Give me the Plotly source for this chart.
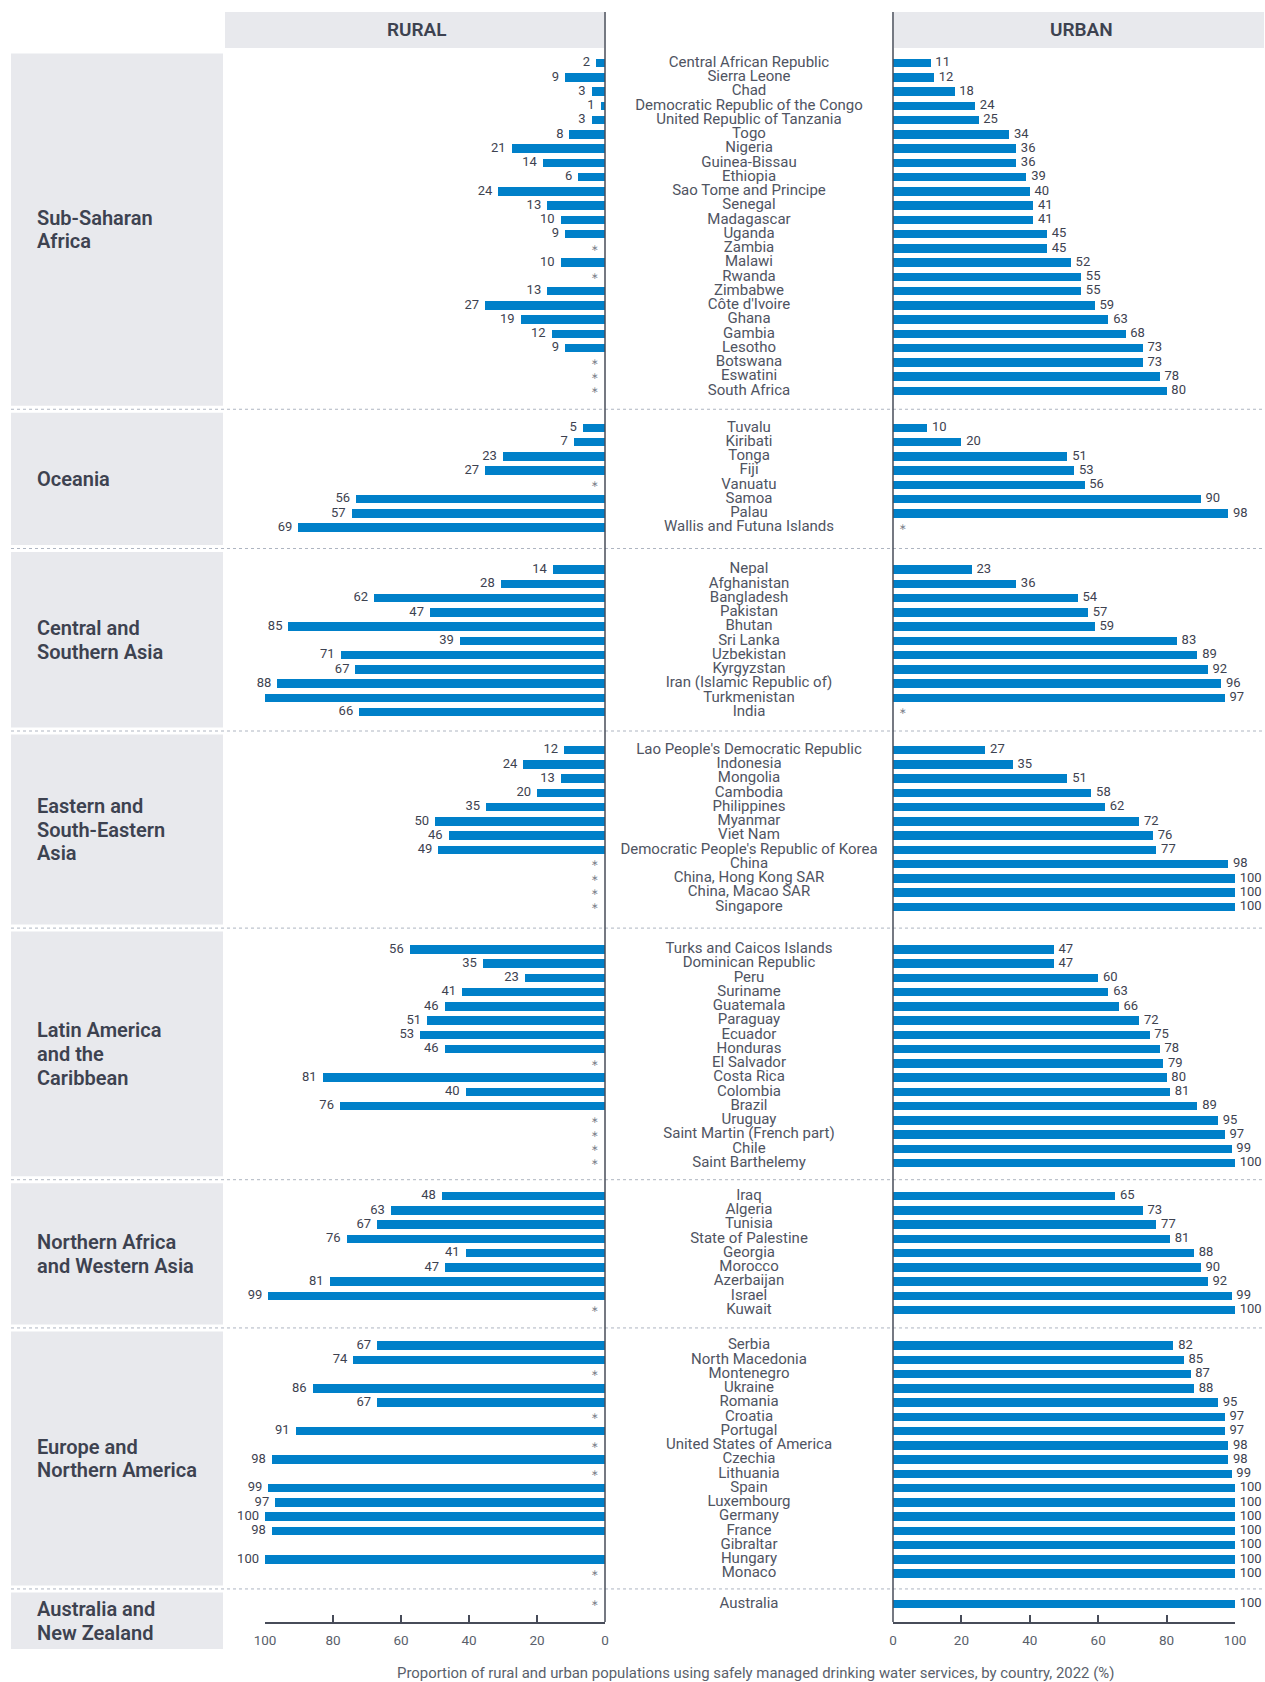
import plotly.graph_objects as go

# ---------------------------------------------------------------- data
# None  -> insufficient data (drawn as an asterisk)
# NA    -> not applicable (nothing drawn)
NA = "n/a"

SSA_COUNTRIES = ["Central African Republic", "Sierra Leone", "Chad",
                 "Democratic Republic of the Congo", "United Republic of Tanzania",
                 "Togo", "Nigeria", "Guinea-Bissau", "Ethiopia", "Sao Tome and Principe",
                 "Senegal", "Madagascar", "Uganda", "Zambia", "Malawi", "Rwanda",
                 "Zimbabwe", "Côte d'Ivoire", "Ghana", "Gambia", "Lesotho", "Botswana",
                 "Eswatini", "South Africa"]
SSA_RURAL = [2, 9, 3, 1, 3, 8, 21, 14, 6, 24, 13, 10, 9, None, 10, None, 13, 27, 19, 12, 9,
             None, None, None]
SSA_URBAN = [11, 12, 18, 24, 25, 34, 36, 36, 39, 40, 41, 41, 45, 45, 52, 55, 55, 59, 63, 68,
             73, 73, 78, 80]

OCE_COUNTRIES = ["Tuvalu", "Kiribati", "Tonga", "Fiji", "Vanuatu", "Samoa", "Palau",
                 "Wallis and Futuna Islands"]
OCE_RURAL = [5, 7, 23, 27, None, 56, 57, 69]
OCE_URBAN = [10, 20, 51, 53, 56, 90, 98, None]

CSA_COUNTRIES = ["Nepal", "Afghanistan", "Bangladesh", "Pakistan", "Bhutan", "Sri Lanka",
                 "Uzbekistan", "Kyrgyzstan", "Iran (Islamic Republic of)", "Turkmenistan",
                 "India"]
CSA_RURAL = [14, 28, 62, 47, 85, 39, 71, 67, 88, 92, 66]
CSA_URBAN = [23, 36, 54, 57, 59, 83, 89, 92, 96, 97, None]

ESEA_COUNTRIES = ["Lao People's Democratic Republic", "Indonesia", "Mongolia", "Cambodia",
                  "Philippines", "Myanmar", "Viet Nam",
                  "Democratic People's Republic of Korea", "China", "China, Hong Kong SAR",
                  "China, Macao SAR", "Singapore"]
ESEA_RURAL = [12, 24, 13, 20, 35, 50, 46, 49, None, None, None, None]
ESEA_URBAN = [27, 35, 51, 58, 62, 72, 76, 77, 98, 100, 100, 100]

LAC_COUNTRIES = ["Turks and Caicos Islands", "Dominican Republic", "Peru", "Suriname",
                 "Guatemala", "Paraguay", "Ecuador", "Honduras", "El Salvador", "Costa Rica",
                 "Colombia", "Brazil", "Uruguay", "Saint Martin (French part)", "Chile",
                 "Saint Barthelemy"]
LAC_RURAL = [56, 35, 23, 41, 46, 51, 53, 46, None, 81, 40, 76, None, None, None, None]
LAC_URBAN = [47, 47, 60, 63, 66, 72, 75, 78, 79, 80, 81, 89, 95, 97, 99, 100]

NAWA_COUNTRIES = ["Iraq", "Algeria", "Tunisia", "State of Palestine", "Georgia", "Morocco",
                  "Azerbaijan", "Israel", "Kuwait"]
NAWA_RURAL = [48, 63, 67, 76, 41, 47, 81, 99, None]
NAWA_URBAN = [65, 73, 77, 81, 88, 90, 92, 99, 100]

ENA_COUNTRIES = ["Serbia", "North Macedonia", "Montenegro", "Ukraine", "Romania", "Croatia",
                 "Portugal", "United States of America", "Czechia", "Lithuania", "Spain",
                 "Luxembourg", "Germany", "France", "Gibraltar", "Hungary", "Monaco"]
ENA_RURAL = [67, 74, None, 86, 67, None, 91, None, 98, None, 99, 97, 100, 98, NA, 100, None]
ENA_URBAN = [82, 85, 87, 88, 95, 97, 97, 98, 98, 99, 100, 100, 100, 100, 100, 100, 100]

ANZ_COUNTRIES = ["Australia"]
ANZ_RURAL = [None]
ANZ_URBAN = [100]

REGION_LINES = [["Sub-Saharan", "Africa"], ["Oceania"], ["Central and", "Southern Asia"],
                ["Eastern and", "South-Eastern", "Asia"],
                ["Latin America", "and the", "Caribbean"],
                ["Northern Africa", "and Western Asia"], ["Europe and", "Northern America"],
                ["Australia and", "New Zealand"]]

REGIONS = [
    (SSA_COUNTRIES, SSA_RURAL, SSA_URBAN),
    (OCE_COUNTRIES, OCE_RURAL, OCE_URBAN),
    (CSA_COUNTRIES, CSA_RURAL, CSA_URBAN),
    (ESEA_COUNTRIES, ESEA_RURAL, ESEA_URBAN),
    (LAC_COUNTRIES, LAC_RURAL, LAC_URBAN),
    (NAWA_COUNTRIES, NAWA_RURAL, NAWA_URBAN),
    (ENA_COUNTRIES, ENA_RURAL, ENA_URBAN),
    (ANZ_COUNTRIES, ANZ_RURAL, ANZ_URBAN),
]

X_TICKS = [0, 20, 40, 60, 80, 100]
HEADERS = ["RURAL", "URBAN"]
CAPTION = ("Proportion of rural and urban populations using safely managed drinking "
           "water services, by country, 2022 (%)")

# ---------------------------------------------------------------- style / layout
W, H = 1265, 1682
FONT = "Roboto"
BLUE = "#0080C9"
BOX_BG = "#E8E9ED"
AXIS_C = "#474C59"
TXT_DARK = "#3D4250"
TXT_LAB = "#4F5462"
TXT_AX = "#5A5F6B"
SEP_C = "#AEB5C1"

# all geometry below is in page pixels
RX0, RX1 = 265, 605      # rural axis (100 .. 0)
UX0, UX1 = 893, 1235     # urban axis (0 .. 100)
MX0, MX1 = 605, 893      # country label column
PLOT_TOP, PLOT_BOTTOM = 12, 1622
FIRST_ROW = 63
PITCH = 14.25
BAR_H = 8.5
GAPS = [37, 42, 38, 42.7, 33, 35.5, 30.5]
# rural panel scale (value reached at the left edge of the rural panel) per region
RURAL_SCALE = [76.5, 76.5, 91.3, 100, 97.5, 100, 100, 100]
BOX_X0, BOX_X1 = 11, 223
FIRST_BOX_TOP, LAST_BOX_BOTTOM = 53.6, 1649
REGION_LABEL_X = 35
REGION_LINE_H = 23.6


def px(x):
    return x / W


def py(y):
    return 1 - y / H


# row positions (page pixels, used as y-axis units)
group_ys = []
y = FIRST_ROW
for gi, (countries, _, _) in enumerate(REGIONS):
    ys = [y + i * PITCH for i in range(len(countries))]
    group_ys.append(ys)
    if gi < len(GAPS):
        y = ys[-1] + GAPS[gi]

# rural axes per scale
scale_axes = {}
next_ax = 4
layout_axes = {}
for s in RURAL_SCALE:
    if s == 100:
        scale_axes[s] = "x"
    elif s not in scale_axes:
        scale_axes[s] = "x%d" % next_ax
        layout_axes["xaxis%d" % next_ax] = dict(range=[s, 0], overlaying="x", visible=False,
                                               anchor="y", fixedrange=True, automargin=False)
        next_ax += 1

fig = go.Figure()

lab_font = dict(family=FONT, size=13, color=TXT_DARK)
ast_font = dict(family=FONT, size=9, color="#7A7F8B")

all_countries, all_ys = [], []
for gi, (countries, rural, urban) in enumerate(REGIONS):
    ys = group_ys[gi]
    rax = scale_axes[RURAL_SCALE[gi]]
    all_countries += countries
    all_ys += ys

    rv = [(v, yy) for v, yy in zip(rural, ys) if isinstance(v, (int, float))]
    rm = [yy for v, yy in zip(rural, ys) if v is None]
    uv = [(v, yy) for v, yy in zip(urban, ys) if isinstance(v, (int, float))]
    um = [yy for v, yy in zip(urban, ys) if v is None]

    if rv:
        fig.add_trace(go.Bar(orientation="h", x=[v for v, _ in rv], y=[yy for _, yy in rv],
                             width=BAR_H, marker=dict(color=BLUE, line=dict(width=0)),
                             xaxis=rax, yaxis="y", hoverinfo="skip"))
        fig.add_trace(go.Scatter(mode="markers+text", x=[v for v, _ in rv],
                                 y=[yy for _, yy in rv], text=[str(v) for v, _ in rv],
                                 textposition="middle left", textfont=lab_font,
                                 marker=dict(size=8, color="rgba(0,0,0,0)"),
                                 cliponaxis=False, xaxis=rax, yaxis="y", hoverinfo="skip"))
    if rm:
        fig.add_trace(go.Scatter(mode="markers+text", x=[0] * len(rm), y=rm,
                                 text=["∗"] * len(rm), textposition="middle left",
                                 textfont=ast_font,
                                 marker=dict(size=8, color="rgba(0,0,0,0)"),
                                 cliponaxis=False, xaxis=rax, yaxis="y", hoverinfo="skip"))
    if uv:
        fig.add_trace(go.Bar(orientation="h", x=[v for v, _ in uv], y=[yy for _, yy in uv],
                             width=BAR_H, marker=dict(color=BLUE, line=dict(width=0)),
                             xaxis="x2", yaxis="y", hoverinfo="skip"))
        fig.add_trace(go.Scatter(mode="markers+text", x=[v for v, _ in uv],
                                 y=[yy for _, yy in uv], text=[str(v) for v, _ in uv],
                                 textposition="middle right", textfont=lab_font,
                                 marker=dict(size=6, color="rgba(0,0,0,0)"),
                                 cliponaxis=False, xaxis="x2", yaxis="y", hoverinfo="skip"))
    if um:
        fig.add_trace(go.Scatter(mode="markers+text", x=[0] * len(um), y=um,
                                 text=["∗"] * len(um), textposition="middle right",
                                 textfont=ast_font,
                                 marker=dict(size=8, color="rgba(0,0,0,0)"),
                                 cliponaxis=False, xaxis="x2", yaxis="y", hoverinfo="skip"))

fig.add_trace(go.Scatter(mode="text", x=[0.5] * len(all_countries), y=all_ys,
                         text=all_countries, textposition="middle center",
                         textfont=dict(family=FONT, size=15, color=TXT_LAB),
                         cliponaxis=False, xaxis="x3", yaxis="y", hoverinfo="skip"))

# ---------------------------------------------------------------- shapes
shapes = []
annotations = []

# header boxes
for (x0, x1), label in zip([(225, 604), (894, 1264)], HEADERS):
    shapes.append(dict(type="rect", xref="paper", yref="paper", x0=px(x0), x1=px(x1),
                       y0=py(48), y1=py(12), fillcolor=BOX_BG, line=dict(width=0),
                       layer="below"))
    annotations.append(dict(xref="paper", yref="paper", x=px((x0 + x1) / 2 + 2), y=py(30),
                            text=label, showarrow=False, xanchor="center", yanchor="middle",
                            font=dict(family=FONT, size=19, color=TXT_DARK, weight=600)))

# separators and region boxes
seps = []
for gi in range(len(REGIONS) - 1):
    seps.append((group_ys[gi][-1] + group_ys[gi + 1][0]) / 2)
tops = [FIRST_BOX_TOP] + [s + 3.5 for s in seps]
bottoms = [s - 3.5 for s in seps] + [LAST_BOX_BOTTOM]
for s in seps:
    shapes.append(dict(type="line", xref="paper", yref="paper", x0=px(BOX_X0), x1=px(1264),
                       y0=py(s), y1=py(s), line=dict(color=SEP_C, width=1, dash="dot"),
                       layer="below"))
for gi, (t, b) in enumerate(zip(tops, bottoms)):
    shapes.append(dict(type="rect", xref="paper", yref="paper", x0=px(BOX_X0), x1=px(BOX_X1),
                       y0=py(b), y1=py(t), fillcolor=BOX_BG, line=dict(width=0),
                       layer="below"))
    lines = REGION_LINES[gi]
    c = (t + b) / 2
    for li, txt in enumerate(lines):
        yy = c + (li - (len(lines) - 1) / 2) * REGION_LINE_H
        annotations.append(dict(xref="paper", yref="paper", x=px(REGION_LABEL_X), y=py(yy),
                                text=txt, showarrow=False, xanchor="left", yanchor="middle",
                                font=dict(family=FONT, size=20, color=TXT_DARK, weight=600)))

# zero lines
for xz in (RX1, UX0):
    shapes.append(dict(type="line", xref="paper", yref="paper", x0=px(xz), x1=px(xz),
                       y0=py(PLOT_BOTTOM), y1=py(PLOT_TOP),
                       line=dict(color=AXIS_C, width=1.5), layer="above"))

annotations.append(dict(xref="paper", yref="paper", x=px(755), y=py(1673), text=CAPTION,
                        showarrow=False, xanchor="center", yanchor="middle",
                        font=dict(family=FONT, size=14.9, color=TXT_AX)))

axis_common = dict(showgrid=False, zeroline=False, showline=True, linecolor=AXIS_C,
                   linewidth=2, ticks="inside", ticklen=7, tickwidth=2, tickcolor=AXIS_C,
                   tickvals=X_TICKS, ticktext=[str(t) for t in X_TICKS],
                   tickfont=dict(family=FONT, size=13.5, color=TXT_AX),
                   ticklabelstandoff=5, anchor="y", fixedrange=True, automargin=False)

layout = dict(
    width=W, height=H,
    margin=dict(l=0, r=0, t=0, b=0, pad=0, autoexpand=False), autosize=False,
    paper_bgcolor="white", plot_bgcolor="rgba(0,0,0,0)",
    showlegend=False, barmode="overlay", bargap=0,
    font=dict(family=FONT),
    xaxis=dict(domain=[px(RX0), px(RX1)], range=[100, 0], **axis_common),
    xaxis2=dict(domain=[px(UX0), px(UX1)], range=[0, 100], **axis_common),
    xaxis3=dict(domain=[px(MX0), px(MX1)], range=[0, 1], visible=False, anchor="y",
                fixedrange=True, automargin=False),
    yaxis=dict(domain=[py(PLOT_BOTTOM), py(PLOT_TOP)], range=[PLOT_BOTTOM, PLOT_TOP],
               visible=False, fixedrange=True, automargin=False),
    shapes=shapes, annotations=annotations,
)
layout.update(layout_axes)
fig.update_layout(**layout)

# page without the default body margin so the figure fills the window exactly
fig.write_html("out.html",
               config={"displayModeBar": False, "staticPlot": True},
               post_script="document.body.style.margin='0';"
                           "document.documentElement.style.overflow='hidden';")
